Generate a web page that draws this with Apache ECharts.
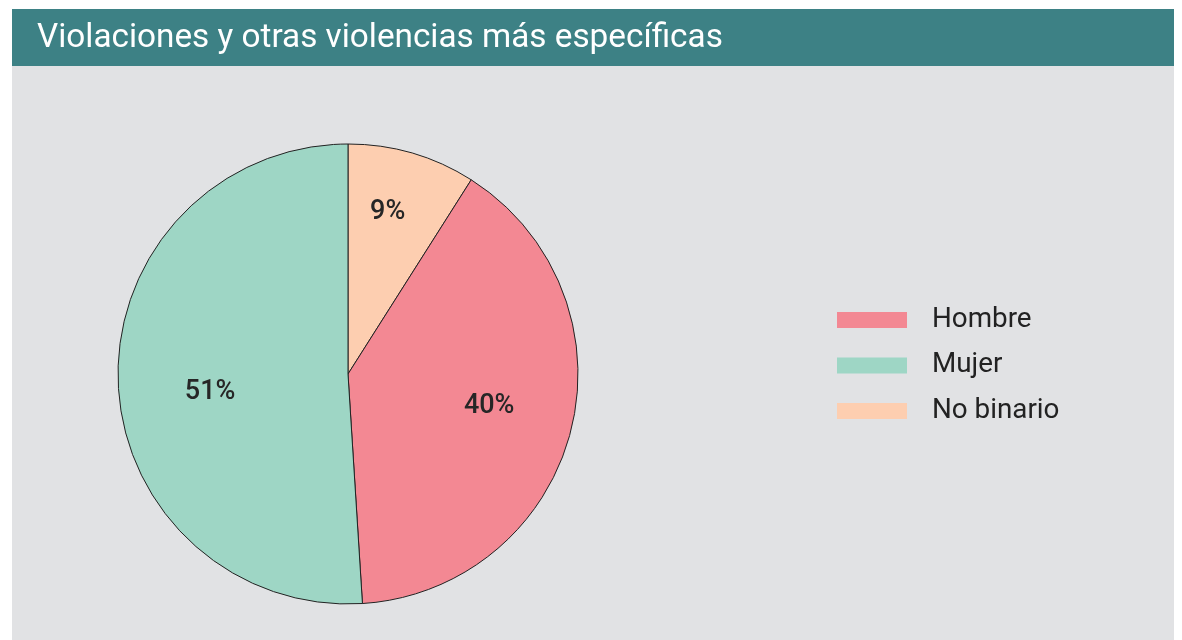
<!DOCTYPE html>
<html>
<head>
<meta charset="utf-8">
<script src="https://cdn.jsdelivr.net/npm/echarts@6/dist/echarts.min.js"></script>
<style>
  html, body { margin: 0; padding: 0; background: #fff; }
  #chart { width: 1182px; height: 640px; }
</style>
</head>
<body>
<div id="chart"></div>
<script>
var titleText = 'Violaciones y otras violencias más específicas';
var legendNames = ['Hombre', 'Mujer', 'No binario'];
// slice order as drawn clockwise from 12 o'clock
var sliceNames = ['No binario', 'Hombre', 'Mujer'];
var sliceValues = [9, 40, 51];
var sliceColors = { 'Hombre': '#F38893', 'Mujer': '#9ED6C5', 'No binario': '#FDCEB0' };

// small nudges so the percentages sit where the original placed them
var labelNudge = { 'No binario': [-3, -15], 'Hombre': [-7, -6], 'Mujer': [15, 13] };

var pieData = sliceNames.map(function(n, i) {
	return { name: n, value: sliceValues[i], itemStyle: { color: sliceColors[n] } };
});

var chart = echarts.init(document.getElementById('chart'), null, { renderer: 'canvas' });
chart.setOption({
	animation: false,
	backgroundColor: '#fff',
	graphic: [
		{ type: 'rect', shape: { x: 12, y: 66, width: 1162, height: 580 }, style: { fill: '#E1E2E4' }, z: -10 },
		{ type: 'rect', shape: { x: 12, y: 9, width: 1162, height: 57 }, style: { fill: '#3D8185' }, z: -10 }
	],
	title: {
		text: titleText,
		left: 37,
		top: 21,
		padding: 0,
		textStyle: { color: '#fff', fontFamily: 'Roboto', fontWeight: 400, fontSize: 33.3, lineHeight: 36 }
	},
	legend: {
		orient: 'vertical',
		left: 837,
		top: 306,
		padding: 0,
		data: legendNames,
		icon: 'rect',
		itemWidth: 70,
		itemHeight: 16,
		itemGap: 17.5,
		itemStyle: { borderWidth: 0 },
		selectedMode: false,
		textStyle: { color: '#222', fontFamily: 'Roboto', fontSize: 27.8, lineHeight: 28, padding: [0, 0, 0, 20] }
	},
	series: [
		{
			type: 'pie',
			center: [348, 374],
			radius: [0, 230],
			startAngle: 90,
			clockwise: true,
			data: pieData,
			itemStyle: { borderColor: '#222', borderWidth: 1 },
			label: { show: false },
			labelLine: { show: false },
			emphasis: { disabled: true }
		},
		{
			// label-only ring so the percentages sit further out than the default mid-radius
			type: 'pie',
			center: [348, 374],
			radius: [0, 300],
			startAngle: 90,
			clockwise: true,
			silent: true,
			legendHoverLink: false,
			data: sliceNames.map(function(n, i) { return { name: n + ' ', value: sliceValues[i] }; }),
			itemStyle: { color: 'transparent', borderWidth: 0 },
			label: {
				show: true,
				position: 'inside',
				formatter: '{c}%',
				color: '#262626',
				fontFamily: 'Roboto',
				fontWeight: 500,
				fontSize: 27
			},
			labelLayout: function(p) {
				var d = labelNudge[sliceNames[p.dataIndex]];
				return { dx: d[0], dy: d[1] };
			},
			labelLine: { show: false },
			emphasis: { disabled: true },
			z: 3
		}
	]
});
</script>
</body>
</html>
